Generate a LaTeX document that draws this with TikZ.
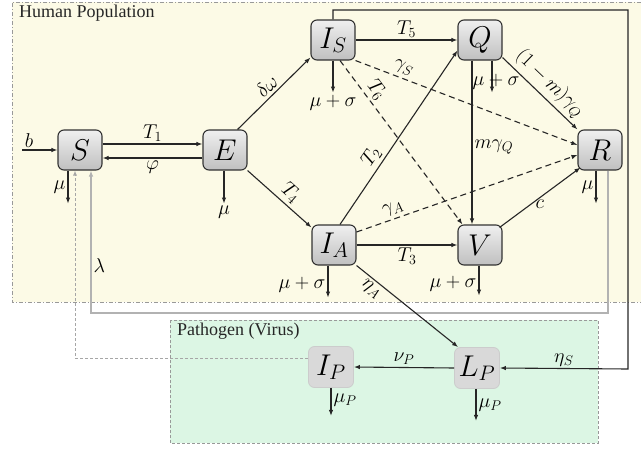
\RequirePackage{fix-cm}
\documentclass[tikz,border=0pt]{standalone}
\usepackage{fontspec}
\setmainfont{Liberation Serif}
\usetikzlibrary{arrows.meta,calc}
\definecolor{hyellow}{RGB}{252,250,230}
\definecolor{pgreen}{RGB}{220,246,228}
\begin{document}
\begin{tikzpicture}[x=1pt,y=-1pt,
 box/.style={draw=black!80,line width=1.1pt,rounded corners=6pt,minimum width=44pt,minimum height=40pt,top color=gray!12,bottom color=gray!50,font=\fontsize{30}{32}\selectfont,inner sep=0pt},
 pbox/.style={draw=gray!40,line width=0.8pt,rounded corners=6pt,minimum width=45pt,minimum height=41pt,fill=gray!30,font=\fontsize{30}{32}\selectfont,inner sep=0pt},
 arr/.style={-{Latex[length=6pt,width=4.5pt]},line width=1.1pt,draw=black!85},
 darr/.style={arr,dash pattern=on 6pt off 4pt},
 lab/.style={font=\fontsize{20}{22}\selectfont,inner sep=2pt},
 slab/.style={lab,sloped,inner sep=3pt},
 ttl/.style={font=\fontsize{18}{20}\selectfont,inner sep=0pt,text=black!85},
]
\useasboundingbox (0,0) rectangle (641,450);
% backgrounds
\fill[hyellow] (12,2) rectangle (641,302);
\draw[gray!80,line width=0.9pt,dash pattern=on 4pt off 2pt on 1pt off 2pt] (641,2) -- (12,2) -- (12,302) -- (641,302);
\draw[gray!80,line width=0.9pt,dash pattern=on 3pt off 2pt,fill=pgreen] (170,320) rectangle (598,443);
\node[ttl,anchor=north west] (hp) at (19,5) {Human Population};
\node[ttl,anchor=north west] (pv) at (177,323) {Pathogen (Virus)};

% nodes
\node[box] (S) at (80,150) {$S$};
\node[box] (E) at (225,150) {$E$};
\node[box] (IS) at (333,40) {$I_S$};
\node[box] (Q) at (480,40) {$Q$};
\node[box] (R) at (600,150) {$R$};
\node[box] (IA) at (334,245) {$I_A$};
\node[box] (V) at (480,245) {$V$};
\node[pbox] (LP) at (477,368) {$L_P$};
\node[pbox] (IP) at (331,367) {$I_P$};

% feedback lines
\draw[-{Latex[length=6pt,width=4.5pt]},gray!60,line width=1.2pt] ([xshift=8pt]R.south) -- ([xshift=8pt]R.south |- 0,313) -- ([xshift=11pt]S.south |- 0,313) node[lab,pos=1,above right,yshift=38pt,text=black] (lam) {$\lambda$} -- ([xshift=11pt]S.south);
\draw[-{Latex[length=5pt,width=4pt]},gray!70,line width=0.9pt,dash pattern=on 3pt off 2pt] ([yshift=9pt]IP.west) -- ([yshift=9pt]IP.west -| 75,0) -- ([xshift=-5pt]S.south);
\draw[arr] (IS.north) -- (IS.north |- 0,10) -- (628,10) -- (628,369) -- node[lab,above,pos=0.5] (etaS) {$\eta_S$} (LP.east);

% inflow
\coordinate (bin) at (22,150);
\draw[arr] (bin) -- node[lab,above,pos=0.2] (blab) {$b$} (S.west);

% S <-> E
\draw[arr] ([yshift=6pt]S.east) -- node[lab,above] (t1) {$T_1$} ([yshift=6pt]E.west);
\draw[arr] ([yshift=-8pt]E.west) -- node[lab,below] (phi) {$\varphi$} ([yshift=-8pt]S.east);

% E transitions
\draw[arr] ([xshift=-10pt]E.north east) -- node[slab,above,pos=0.5] {$\delta\omega$} ([yshift=3pt]IS.south west);
\draw[arr] (E.south east) -- node[slab,above,pos=0.55] {$T_4$} ([yshift=-3pt]IA.north west);

% IS transitions
\draw[arr] (IS.east) -- node[lab,above] {$T_5$} (Q.west);
\draw[darr] (IS.south east) -- node[slab,above,pos=0.2] {$\gamma_S$} ([yshift=5pt]R.west);
\draw[darr] ([xshift=7pt]IS.south) -- node[slab,above,pos=0.22] {$T_6$} ([xshift=5pt]V.north west);

% IA transitions
\draw[arr] ([xshift=6pt]IA.north) -- node[slab,above,pos=0.35] {$T_2$} ([yshift=10pt]Q.south west);
\draw[darr] ([yshift=13pt]IA.east) -- node[slab,above,pos=0.18] {$\gamma_A$} ([yshift=-5pt]R.west);
\draw[arr] (IA.east) -- node[lab,below,pos=0.5] {$T_3$} (V.west);
\draw[arr] (IA.south east) -- node[slab,below,pos=0.2] {$\eta_A$} ([xshift=4pt]LP.north west);

% Q transitions
\draw[arr] ([xshift=-8pt]Q.south) -- node[lab,right,pos=0.53] {$m\gamma_Q$} ([xshift=-8pt]V.north);
\draw[arr] ([yshift=3pt]Q.south east) -- node[slab,above,pos=0.5] {$(1-m)\gamma_Q$} (R.north west);

% V -> R
\draw[arr] ([xshift=-3pt,yshift=-3pt]V.north east) -- node[lab,below right=-3pt,pos=0.45] {$c$} ([xshift=3pt,yshift=3pt]R.south west);

% pathogen
\draw[arr] (LP.west) -- node[lab,above] {$\nu_P$} (IP.east);

% outflows
\draw[arr] ([xshift=-12pt]S.south) -- ++(0,33) node[lab,left,pos=0.5] {$\mu$};
\draw[arr] ([xshift=-1pt]E.south) -- ++(0,33) node[lab,below] {$\mu$};
\draw[arr] (IS.south) -- ++(0,32) node[lab,below] {$\mu+\sigma$};
\draw[arr] ([xshift=12pt]Q.south) -- ++(0,32);
\node[lab] (qmu) at (496,82) {$\mu+\sigma$};
\draw[arr] ([xshift=-6pt]IA.south) -- ++(0,32) node[lab,left,pos=0.6] {$\mu+\sigma$};
\draw[arr] ([xshift=-1pt]V.south) -- ++(0,30) node[lab,left,pos=0.6] {$\mu+\sigma$};
\draw[arr] ([xshift=-4pt]R.south) -- ++(0,33) node[lab,left,pos=0.5] {$\mu$};
\draw[arr] ([xshift=-1pt]LP.south) -- ++(0,32) node[lab,right,pos=0.5] {$\mu_P$};
\draw[arr] (IP.south) -- ++(0,28) node[lab,right,pos=0.45] {$\mu_P$};
\end{tikzpicture}
\end{document}
